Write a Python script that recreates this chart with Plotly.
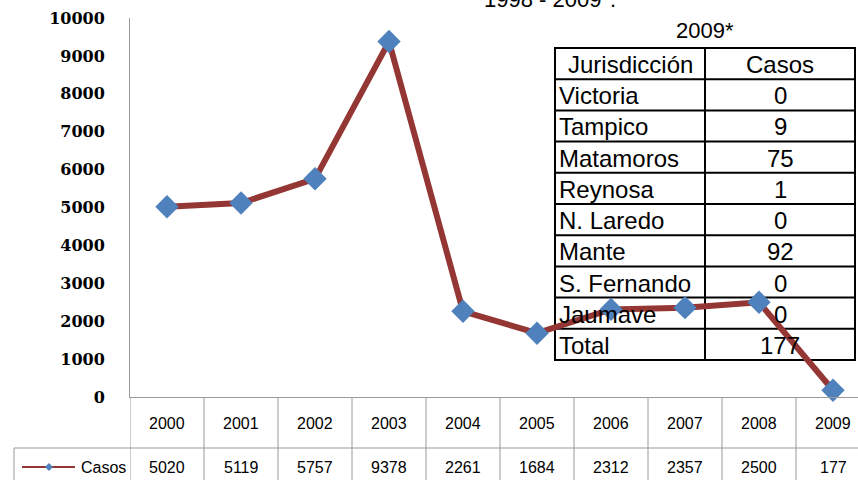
import plotly.graph_objects as go

years = ["2000", "2001", "2002", "2003", "2004", "2005", "2006", "2007", "2008", "2009"]
casos = [5020, 5119, 5757, 9378, 2261, 1684, 2312, 2357, 2500, 177]

jurisdicciones = ["Victoria", "Tampico", "Matamoros", "Reynosa", "N. Laredo",
                  "Mante", "S. Fernando", "Jaumave", "Total"]
casos_2009 = [0, 9, 75, 1, 0, 92, 0, 0, 177]

W, H = 858, 480
L, R, T, B = 130, 0, 18, 83
PW, PH = W - L - R, H - T - B


def X(px):
    return (px - L) / PW


def Y(py):
    return (H - B - py) / PH


LINE_COLOR = "#943634"
MARK_COLOR = "#4F81BD"
GRID = "#9A9A9A"

fig = go.Figure()
fig.add_trace(go.Scatter(
    x=years, y=casos, mode="lines+markers", name="Casos",
    line=dict(color=LINE_COLOR, width=6),
    marker=dict(symbol="diamond", size=18, color=MARK_COLOR),
    showlegend=False, cliponaxis=False,
))

shapes = []
annotations = []

# bottom data table grid
for k in range(len(years) + 1):
    shapes.append(dict(type="line", xref="x", yref="paper", x0=k - 0.5, x1=k - 0.5,
                       y0=0, y1=Y(490), line=dict(color=GRID, width=1)))
shapes.append(dict(type="line", xref="paper", yref="paper", x0=X(14), x1=1.05,
                   y0=Y(448), y1=Y(448), line=dict(color=GRID, width=1)))
shapes.append(dict(type="line", xref="paper", yref="paper", x0=X(14), x1=X(14),
                   y0=Y(448), y1=Y(490), line=dict(color=GRID, width=1)))
# legend key in data table
shapes.append(dict(type="line", xref="paper", yref="paper", x0=X(22), x1=X(75),
                   y0=Y(467), y1=Y(467), line=dict(color=LINE_COLOR, width=2)))
dx, dy = 4 / PW, 4 / PH
cx, cy = X(49), Y(467)
shapes.append(dict(type="path", xref="paper", yref="paper",
                   path=f"M {cx-dx} {cy} L {cx} {cy+dy} L {cx+dx} {cy} L {cx} {cy-dy} Z",
                   fillcolor=MARK_COLOR, line=dict(width=0)))
annotations.append(dict(xref="paper", yref="paper", x=X(79), y=Y(467), text="Casos",
                        showarrow=False, xanchor="left", yanchor="middle",
                        font=dict(family="Liberation Sans", size=16, color="#000")))
tbl_font = dict(family="Liberation Sans", size=16, color="#000")
for i, (yr, v) in enumerate(zip(years, casos)):
    annotations.append(dict(xref="x", yref="paper", x=i, y=Y(423), text=yr, showarrow=False,
                            xanchor="center", yanchor="middle", font=tbl_font))
    annotations.append(dict(xref="x", yref="paper", x=i, y=Y(467), text=str(v), showarrow=False,
                            xanchor="center", yanchor="middle", font=tbl_font))

# right-side 2009 table
tl, tm, tr = 555, 705, 855
top, rowh = 48, 31.2
nrows = len(jurisdicciones) + 1
bot = top + rowh * nrows
tfont = dict(family="Liberation Sans", size=24, color="#000")
shapes.append(dict(type="rect", xref="paper", yref="paper", x0=X(tl), x1=X(tr),
                   y0=Y(bot), y1=Y(top), fillcolor="white", layer="below",
                   line=dict(color="black", width=2)))
shapes.append(dict(type="line", xref="paper", yref="paper", x0=X(tm), x1=X(tm),
                   y0=Y(bot), y1=Y(top), line=dict(color="black", width=2), layer="below"))
for r in range(1, nrows):
    yy = top + r * rowh
    shapes.append(dict(type="line", xref="paper", yref="paper", x0=X(tl), x1=X(tr),
                       y0=Y(yy), y1=Y(yy), line=dict(color="black", width=2), layer="below"))

annotations.append(dict(xref="paper", yref="paper", x=X(tm), y=Y(30), text="2009*",
                        showarrow=False, xanchor="center", yanchor="middle",
                        font=dict(family="Liberation Sans", size=22, color="#000")))
annotations.append(dict(xref="paper", yref="paper", x=X((tl + tm) / 2), y=Y(top + rowh / 2 + 1),
                        text="Jurisdicción", showarrow=False, xanchor="center", yanchor="middle",
                        font=tfont))
annotations.append(dict(xref="paper", yref="paper", x=X((tm + tr) / 2), y=Y(top + rowh / 2 + 1),
                        text="Casos", showarrow=False, xanchor="center", yanchor="middle",
                        font=tfont))
for r, (j, c) in enumerate(zip(jurisdicciones, casos_2009), start=1):
    yc = top + rowh * r + rowh / 2 + 1
    annotations.append(dict(xref="paper", yref="paper", x=X(tl + 2), y=Y(yc), text=j,
                            showarrow=False, xanchor="left", yanchor="middle", font=tfont))
    annotations.append(dict(xref="paper", yref="paper", x=X((tm + tr) / 2), y=Y(yc), text=str(c),
                            showarrow=False, xanchor="center", yanchor="middle", font=tfont))

# cut-off title at top
annotations.append(dict(xref="paper", yref="paper", x=X(550), y=Y(14), text="1998 - 2009*.",
                        showarrow=False, xanchor="center", yanchor="bottom",
                        font=dict(family="Liberation Sans", size=22, color="#000")))

fig.update_layout(
    width=W, height=H,
    margin=dict(l=L, r=R, t=T, b=B, pad=0),
    paper_bgcolor="white", plot_bgcolor="white",
    showlegend=False,
    shapes=shapes, annotations=annotations,
    xaxis=dict(type="category", range=[-0.5, (W - L) / 74 - 0.5], showticklabels=False,
               showgrid=False, zeroline=False, showline=True, linecolor=GRID, linewidth=1,
               ticks=""),
    yaxis=dict(range=[0, 10000], dtick=1000, tickformat="d", showgrid=False, zeroline=False,
               showline=True, linecolor=GRID, linewidth=1, ticks="",
               ticklabelstandoff=21,
               tickfont=dict(family="DejaVu Serif", size=16, color="#000", weight="bold")),
)

fig.write_html("out.html", config={"displayModeBar": False},
               post_script="document.body.style.margin='0px';document.body.style.overflow='hidden';")
